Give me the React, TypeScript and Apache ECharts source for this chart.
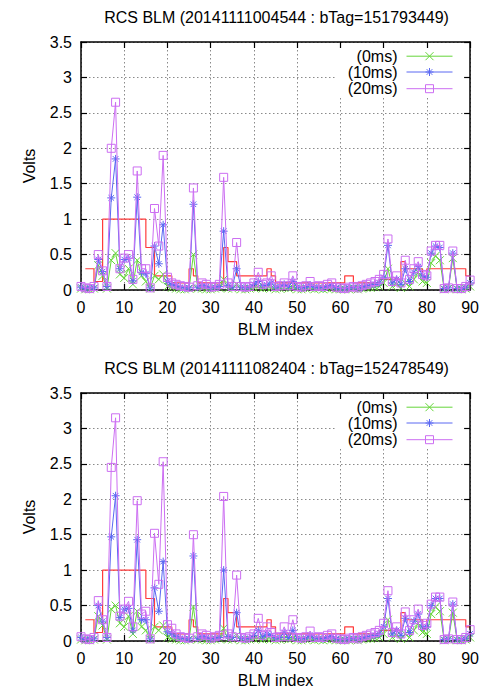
import React, { useEffect, useRef } from 'react';
import * as echarts from 'echarts';

const chartTitles = [
  'RCS BLM (20141111004544 : bTag=151793449)',
  'RCS BLM (20141111082404 : bTag=152478549)',
];
const seriesNames = ['(0ms)', '(10ms)', '(20ms)'];
const xAxisName = 'BLM index';
const yAxisName = 'Volts';

// threshold (red step line), index 0..90
const threshold = [
  null, 0.3, 0.3, 0.12, 0.12, 1.0, 1.0, 1.0, 1.0, 1.0,
  1.0, 1.0, 1.0, 1.0, 1.0, 0.6, 0.6, 0.2, 0.2, 0.2,
  0.2, 0.1, 0.1, 0.1, 0.1, 0.3, 0.2, 0.1, 0.1, 0.1,
  0.1, 0.1, 0.1, 0.6, 0.4, 0.4, 0.2, 0.2, 0.2, 0.2,
  0.2, 0.2, 0.2, 0.3, 0.2, 0.1, 0.1, 0.1, 0.1, 0.1,
  0.1, 0.1, 0.1, 0.1, 0.1, 0.1, 0.1, 0.1, 0.1, 0.1,
  0.1, 0.2, 0.2, 0.1, 0.1, 0.1, 0.1, 0.1, 0.1, 0.15,
  0.15, 0.15, 0.15, 0.15, 0.4, 0.3, 0.3, 0.3, 0.3, 0.17,
  0.3, 0.3, 0.3, 0.3, 0.3, 0.3, 0.3, 0.3, 0.3, 0.2,
  0.2,
];

// Top chart
const top0ms = [
  0.02, 0.01, 0.01, 0.02, 0.35, 0.2, 0.02, 0.42, 0.52, 0.22,
  0.17, 0.3, 0.08, 0.42, 0.2, 0.12, 0.02, 0.2, 0.15, 0.22,
  0.05, 0.03, 0.02, 0.01, 0.01, 0.02, 0.5, 0.02, 0.02, 0.01,
  0.01, 0.02, 0.03, 0.15, 0.02, 0.02, 0.08, 0.01, 0.01, 0.02,
  0.03, 0.04, 0.02, 0.03, 0.03, 0.01, 0.02, 0.03, 0.02, 0.04,
  0.01, 0.01, 0.02, 0.03, 0.01, 0.02, 0.01, 0.02, 0.02, 0.01,
  0.01, 0.01, 0.01, 0.02, 0.01, 0.02, 0.03, 0.03, 0.04, 0.05,
  0.1, 0.3, 0.05, 0.08, 0.03, 0.1, 0.05, 0.15, 0.25, 0.12,
  0.1, 0.38, 0.48, 0.42, 0.01, 0.02, 0.45, 0.01, 0.01, 0.02,
  0.05,
];
const top10ms = [
  0.04, 0.02, 0.03, 0.03, 0.43, 0.26, 0.05, 1.3, 1.85, 0.3,
  0.43, 0.45, 0.13, 1.31, 0.25, 0.23, 0.03, 0.62, 0.37, 0.92,
  0.12, 0.08, 0.06, 0.04, 0.03, 0.03, 1.21, 0.04, 0.06, 0.05,
  0.03, 0.04, 0.05, 0.83, 0.06, 0.04, 0.3, 0.04, 0.03, 0.04,
  0.08, 0.12, 0.06, 0.07, 0.1, 0.04, 0.05, 0.08, 0.05, 0.12,
  0.04, 0.03, 0.04, 0.07, 0.04, 0.04, 0.03, 0.05, 0.06, 0.03,
  0.02, 0.02, 0.03, 0.04, 0.03, 0.04, 0.06, 0.07, 0.08, 0.1,
  0.18, 0.63, 0.1, 0.15, 0.08, 0.3, 0.12, 0.25, 0.33, 0.2,
  0.18, 0.52, 0.62, 0.6, 0.02, 0.03, 0.52, 0.02, 0.02, 0.04,
  0.1,
];
const top20ms = [
  0.05, 0.03, 0.02, 0.05, 0.5, 0.27, 0.05, 2.0, 2.65, 0.3,
  0.45, 0.5, 0.15, 1.68, 0.3, 0.3, 0.03, 1.15, 0.62, 1.9,
  0.18, 0.1, 0.08, 0.06, 0.05, 0.04, 1.44, 0.06, 0.1, 0.08,
  0.04, 0.05, 0.08, 1.59, 0.1, 0.05, 0.67, 0.05, 0.04, 0.05,
  0.1, 0.25, 0.08, 0.1, 0.2, 0.05, 0.06, 0.1, 0.06, 0.2,
  0.05, 0.04, 0.06, 0.12, 0.05, 0.06, 0.05, 0.08, 0.1, 0.04,
  0.03, 0.02, 0.04, 0.05, 0.03, 0.06, 0.08, 0.1, 0.12, 0.15,
  0.22, 0.72, 0.12, 0.2, 0.1, 0.42, 0.15, 0.3, 0.4, 0.22,
  0.2, 0.55, 0.63, 0.63, 0.02, 0.03, 0.55, 0.02, 0.02, 0.05,
  0.14,
];

// Bottom chart
const bottom0ms = [
  0.02, 0.01, 0.01, 0.02, 0.35, 0.22, 0.02, 0.45, 0.5, 0.25,
  0.2, 0.35, 0.1, 0.42, 0.2, 0.15, 0.02, 0.2, 0.15, 0.22,
  0.05, 0.03, 0.02, 0.01, 0.01, 0.02, 0.48, 0.02, 0.02, 0.01,
  0.01, 0.02, 0.03, 0.18, 0.02, 0.02, 0.08, 0.01, 0.01, 0.02,
  0.03, 0.04, 0.02, 0.03, 0.03, 0.01, 0.02, 0.03, 0.02, 0.04,
  0.01, 0.01, 0.02, 0.03, 0.01, 0.02, 0.01, 0.02, 0.02, 0.01,
  0.01, 0.01, 0.01, 0.02, 0.01, 0.02, 0.03, 0.03, 0.04, 0.05,
  0.1, 0.3, 0.05, 0.08, 0.03, 0.1, 0.05, 0.15, 0.25, 0.12,
  0.1, 0.38, 0.48, 0.42, 0.01, 0.02, 0.4, 0.01, 0.01, 0.02,
  0.05,
];
const bottom10ms = [
  0.05, 0.02, 0.03, 0.03, 0.5, 0.28, 0.05, 1.47, 2.05, 0.33,
  0.45, 0.46, 0.15, 1.43, 0.3, 0.3, 0.03, 0.75, 0.42, 1.12,
  0.13, 0.1, 0.06, 0.04, 0.03, 0.03, 1.2, 0.04, 0.06, 0.05,
  0.03, 0.04, 0.05, 1.0, 0.06, 0.05, 0.4, 0.04, 0.03, 0.04,
  0.08, 0.15, 0.06, 0.1, 0.08, 0.04, 0.05, 0.12, 0.05, 0.15,
  0.04, 0.03, 0.04, 0.08, 0.04, 0.04, 0.03, 0.05, 0.06, 0.03,
  0.02, 0.02, 0.03, 0.04, 0.03, 0.04, 0.06, 0.07, 0.08, 0.1,
  0.2, 0.6, 0.1, 0.15, 0.08, 0.32, 0.12, 0.28, 0.38, 0.2,
  0.2, 0.5, 0.6, 0.6, 0.02, 0.03, 0.52, 0.02, 0.02, 0.04,
  0.1,
];
const bottom20ms = [
  0.06, 0.03, 0.02, 0.05, 0.57, 0.3, 0.05, 2.45, 3.15, 0.35,
  0.45, 0.56, 0.2, 1.98, 0.38, 0.42, 0.03, 1.52, 0.8, 2.53,
  0.23, 0.18, 0.1, 0.06, 0.05, 0.04, 1.5, 0.06, 0.1, 0.08,
  0.04, 0.06, 0.08, 2.04, 0.1, 0.06, 0.93, 0.05, 0.04, 0.06,
  0.1, 0.32, 0.08, 0.2, 0.12, 0.05, 0.06, 0.2, 0.06, 0.3,
  0.05, 0.04, 0.06, 0.14, 0.05, 0.06, 0.05, 0.08, 0.1, 0.04,
  0.03, 0.02, 0.04, 0.05, 0.03, 0.06, 0.08, 0.1, 0.12, 0.15,
  0.25, 0.71, 0.12, 0.2, 0.1, 0.41, 0.15, 0.3, 0.45, 0.22,
  0.25, 0.52, 0.62, 0.62, 0.02, 0.03, 0.55, 0.02, 0.02, 0.05,
  0.16,
];

const chartData = [
  [top0ms, top10ms, top20ms],
  [bottom0ms, bottom10ms, bottom20ms],
];

const FONT = '"Liberation Sans", Arial, sans-serif';
const FS = 16;
const COLORS = ['#66d63a', '#5a68f2', '#cc6ef2'];
const RED = '#ff3b3b';
const SYMBOLS = [
  'path://M0,0L10,10M10,0L0,10',
  'path://M5,0L5,10M0,5L10,5M1.5,1.5L8.5,8.5M8.5,1.5L1.5,8.5',
  'path://M0,0L10,0L10,10L0,10Z',
];

const GRID_LEFT = 81;
const GRID_RIGHT = 10;
const GRID_TOPS = [42, 393];
const GRID_HEIGHT = 248;
const W = 482;

function toPairs(arr: (number | null)[]) {
  const out: [number, number][] = [];
  arr.forEach((v, i) => {
    if (v !== null && v !== undefined) out.push([i, v]);
  });
  return out;
}

export default function App() {
  const ref = useRef<HTMLDivElement>(null);

  useEffect(() => {
    if (!ref.current) return;
    const chart = echarts.init(ref.current, null, { renderer: 'svg' });

    const grids: any[] = [];
    const xAxes: any[] = [];
    const yAxes: any[] = [];
    const series: any[] = [];
    const titles: any[] = [];
    const legends: any[] = [];
    const graphics: any[] = [];

    const gridLine = { show: true, lineStyle: { color: '#8a8a8a', width: 1, type: [1.5, 2.5] } };
    const axisLine = { show: true, onZero: false, lineStyle: { color: '#000', width: 1.5 } };
    const tick = { show: true, inside: true, length: 6, lineStyle: { color: '#000', width: 1.2 } };
    const labelStyle = { fontSize: FS, color: '#000', fontFamily: FONT };

    const plotCenter = GRID_LEFT + (W - GRID_LEFT - GRID_RIGHT) / 2;
    const titleTops = [9, 360];
    const legendRowOffsets = [14.7, 30.5, 47.2];

    for (let g = 0; g < 2; g++) {
      const top = GRID_TOPS[g];
      grids.push({ left: GRID_LEFT, right: GRID_RIGHT, top, height: GRID_HEIGHT, containLabel: false });

      xAxes.push({
        gridIndex: g, type: 'value', position: 'bottom', min: 0, max: 90, interval: 10,
        axisLine, axisTick: tick, axisLabel: { ...labelStyle, margin: 9 },
        splitLine: gridLine,
        name: xAxisName, nameLocation: 'middle', nameGap: 31,
        nameTextStyle: { fontSize: FS, color: '#000', fontFamily: FONT },
        z: 0,
      });
      xAxes.push({
        gridIndex: g, type: 'value', position: 'top', min: 0, max: 90, interval: 10,
        axisLine, axisTick: tick, axisLabel: { show: false }, splitLine: { show: false }, z: 5,
      });
      yAxes.push({
        gridIndex: g, type: 'value', position: 'left', min: 0, max: 3.5, interval: 0.5,
        axisLine, axisTick: tick, axisLabel: { ...labelStyle, margin: 9 },
        splitLine: gridLine,
        name: yAxisName, nameLocation: 'middle', nameRotate: 90, nameGap: 44,
        nameTextStyle: { fontSize: FS, color: '#000', fontFamily: FONT },
        z: 0,
      });
      yAxes.push({
        gridIndex: g, type: 'value', position: 'right', min: 0, max: 3.5, interval: 0.5,
        axisLine, axisTick: tick, axisLabel: { show: false }, splitLine: { show: false }, z: 5,
      });

      titles.push({
        text: chartTitles[g], left: plotCenter, top: titleTops[g], textAlign: 'center', padding: 0,
        textStyle: { fontSize: FS, fontWeight: 'normal', color: '#000', fontFamily: FONT },
      });

      // opaque key box
      graphics.push({
        type: 'rect', z: 1,
        shape: { x: 337, y: top + 1.2, width: 128, height: 54 },
        style: { fill: '#fff' },
      });

      series.push({
        type: 'line', name: 'threshold', xAxisIndex: 2 * g, yAxisIndex: 2 * g,
        data: toPairs(threshold), step: 'end', symbol: 'none',
        lineStyle: { color: RED, width: 1.2 }, itemStyle: { color: RED }, z: 2,
      });
      for (let s = 0; s < 3; s++) {
        series.push({
          type: 'line', name: seriesNames[s], xAxisIndex: 2 * g, yAxisIndex: 2 * g,
          data: toPairs(chartData[g][s]),
          symbol: SYMBOLS[s], symbolSize: 8, showSymbol: true, showAllSymbol: true,
          lineStyle: { color: COLORS[s], width: 1 },
          itemStyle: { color: 'rgba(0,0,0,0)', borderColor: COLORS[s], borderWidth: 1 },
          color: COLORS[s],
          z: 3 + s,
        });
        legends.push({
          data: [seriesNames[s]], orient: 'vertical', align: 'right',
          right: 29, top: top + legendRowOffsets[s] - 8.5,
          itemWidth: 46, itemHeight: 10, padding: 0, selectedMode: false,
          textStyle: { fontSize: FS, color: '#000', fontFamily: FONT, padding: [0, 4, 0, 0] },
          itemStyle: { borderWidth: 1 },
          lineStyle: { width: 1 },
          z: 6,
        });
      }
    }

    chart.setOption({
      animation: false,
      backgroundColor: '#fff',
      title: titles,
      grid: grids,
      xAxis: xAxes,
      yAxis: yAxes,
      legend: legends,
      series,
      graphic: graphics,
    });

    return () => chart.dispose();
  }, []);

  return (
    <div
      ref={ref}
      style={{ position: 'absolute', left: 0, top: 0, width: 482, height: 689 }}
    />
  );
}
